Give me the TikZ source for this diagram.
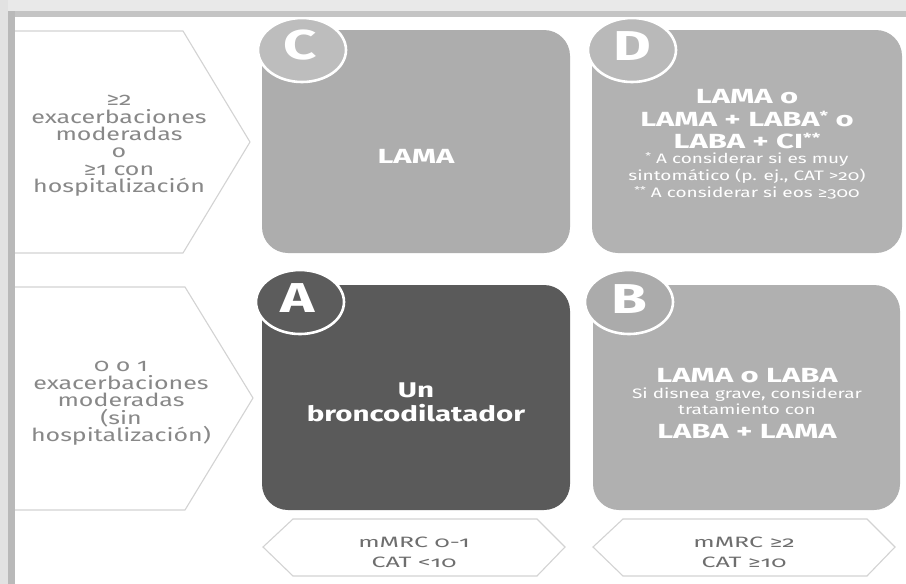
\documentclass[tikz,border=0pt]{standalone}
\usepackage{fontspec}
\setmainfont{Fira Sans}[Numbers=OldStyle]
\usepackage{graphicx}
\definecolor{leftgray}{HTML}{888888}
\definecolor{hexgray}{HTML}{6E6E6E}
\definecolor{outl}{HTML}{D3D3D3}
\definecolor{boxC}{HTML}{ADADAD}
\definecolor{circC}{HTML}{BDBDBD}
\definecolor{boxD}{HTML}{B2B2B2}
\definecolor{circD}{HTML}{B9B9B9}
\definecolor{boxA}{HTML}{5A5A5A}
\definecolor{circA}{HTML}{5C5C5C}
\definecolor{boxB}{HTML}{B0B0B0}
\definecolor{circB}{HTML}{ABABAB}
\definecolor{bandL}{HTML}{E9E9E9}
\definecolor{bandD}{HTML}{C4C4C4}
\definecolor{sideL}{HTML}{E2E2E2}
\definecolor{sideD}{HTML}{B9B9B9}
\newcommand\sq[1]{\scalebox{1}[0.72]{#1}}
\newcommand\sqb[1]{\scalebox{1}[0.66]{#1}}
\newcommand\sqh[1]{\scalebox{1}[0.6]{#1}}
\newcommand\astb[1]{\raisebox{9pt}{\fontsize{19}{19}\selectfont #1}}
\newcommand\asts[1]{\raisebox{5pt}{\fontsize{13}{13}\selectfont #1}}
\tikzset{
  txtbase/.style={inner sep=0pt, anchor=base},
  lefttxt/.style={txtbase, text=leftgray, font=\fontsize{25}{25}\selectfont},
  bigw/.style={txtbase, text=white, font=\fontsize{31}{31}\selectfont\bfseries},
  bigA/.style={txtbase, text=white, font=\fontsize{29.5}{29.5}\selectfont\bfseries},
  smallw/.style={txtbase, text=white, font=\fontsize{19}{19}\selectfont},
  hextxt/.style={txtbase, text=hexgray, font=\fontsize{25}{25}\selectfont},
  letter/.style={txtbase, text=white, font=\fontsize{58}{58}\selectfont\bfseries},
  boxshape/.style={rounded corners=26pt},
  outline/.style={draw=outl, line width=1.1pt, fill=white},
  ring/.style={draw=white, line width=2.6pt},
}
\begin{document}
\begin{tikzpicture}[x=1pt,y=-1pt]
\useasboundingbox (0,0) rectangle (906,584);
\fill[white] (0,0) rectangle (906,584);
% left pentagons
\draw[outline] (10,31) -- (183,31) -- (250,142) -- (183,253) -- (10,253);
\draw[outline] (10,287) -- (185,287) -- (253,398) -- (185,510) -- (10,510);
% boxes
\fill[boxC, boxshape] (262,30) rectangle (570,253);
\fill[boxD, boxshape] (592,30) rectangle (902,253);
\fill[boxA, boxshape] (262,285) rectangle (570,510);
\fill[boxB, boxshape] (593,285) rectangle (900,510);
% circles
\filldraw[fill=circC, ring] (302,50) ellipse [x radius=44pt, y radius=32pt];
\filldraw[fill=circD, ring] (632,50) ellipse [x radius=44pt, y radius=32pt];
\filldraw[fill=circA, ring] (300,302) ellipse [x radius=44pt, y radius=32pt];
\filldraw[fill=circB, ring] (629,302) ellipse [x radius=44pt, y radius=32pt];
\node[letter] (lC) at (300,59) {\sq{C}};
\node[letter] (lD) at (632,60) {\sq{D}};
\node[letter] (lA) at (298,312) {\sq{A}};
\node[letter] (lB) at (629,313) {\sq{B}};
% left texts
\node[lefttxt] (t1) at (119,105.6) {\sq{≥2}};
\node[lefttxt] (t2) at (119,123) {\sq{exacerbaciones}};
\node[lefttxt] (t3) at (119,140.4) {\sq{moderadas}};
\node[lefttxt] (t4) at (119,157.8) {\sq{o}};
\node[lefttxt] (t5) at (119,175.2) {\sq{≥1 con}};
\node[lefttxt] (t6) at (119,192.6) {\sq{hospitalización}};
\node[lefttxt] (u1) at (121,371.5) {\sq{0 o 1}};
\node[lefttxt] (u2) at (121,389) {\sq{exacerbaciones}};
\node[lefttxt] (u3) at (121,406.5) {\sq{moderadas}};
\node[lefttxt] (u4) at (121,424) {\sq{(sin}};
\node[lefttxt] (u5) at (121,441.5) {\sq{hospitalización)}};
% C
\node[bigw] (c1) at (416,163) {\sqb{LAMA}};
% D
\node[bigw] (d1) at (747,103.5) {\sqb{LAMA o}};
\node[bigw] (d2) at (747,126) {\sqb{LAMA + LABA\astb{*} o}};
\node[bigw] (d3) at (747,148) {\sqb{LABA + CI\astb{**}}};
\node[smallw] (d4) at (747,163.5) {\sq{\asts{*} A considerar si es muy}};
\node[smallw] (d5) at (747,180.5) {\sq{sintomático (p. ej., CAT >20)}};
\node[smallw] (d6) at (747,197) {\sq{\asts{**} A considerar si eos ≥300}};
% A
\node[bigA] (a1) at (416,397) {\sq{Un}};
\node[bigA] (a2) at (416,421) {\sq{broncodilatador}};
% B
\node[bigw] (b1) at (747,382) {\sqb{LAMA o LABA}};
\node[smallw] (b2) at (747,398) {\sq{Si disnea grave, considerar}};
\node[smallw] (b3) at (747,414) {\sq{tratamiento con}};
\node[bigw] (b4) at (747,438) {\sqb{LABA + LAMA}};
% hexagons
\draw[outline] (263,547) -- (293,519) -- (537,519) -- (565,547) -- (537,576) -- (293,576) -- cycle;
\draw[outline] (593,547) -- (623,519) -- (867,519) -- (895,547) -- (867,576) -- (623,576) -- cycle;
\node[hextxt] (h1) at (414,547) {\sqh{mMRC 0-1}};
\node[hextxt] (h2) at (414,567) {\sqh{CAT <10}};
\node[hextxt] (h3) at (744,547) {\sqh{mMRC ≥2}};
\node[hextxt] (h4) at (744,567) {\sqh{CAT ≥10}};
% frame shadow bands
\fill[bandL] (0,0) rectangle (906,11);
\fill[bandD] (8,11) rectangle (906,17);
\fill[sideL] (0,0) rectangle (8,584);
\fill[sideD] (8,11) rectangle (15,584);
\end{tikzpicture}
\end{document}
